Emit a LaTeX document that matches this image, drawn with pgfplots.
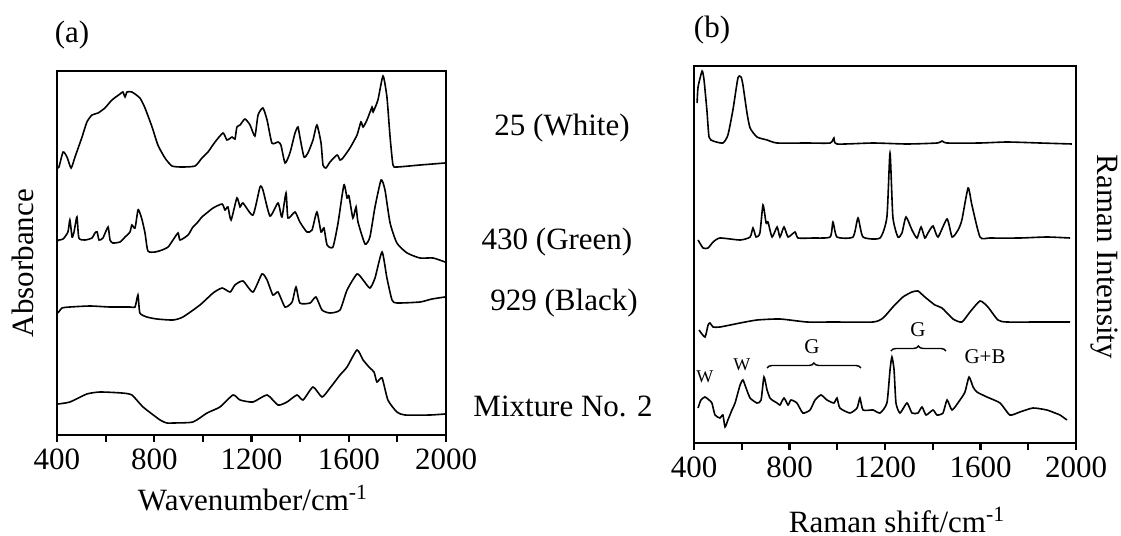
\documentclass[border=0pt]{standalone}
\usepackage{pgfplots}
\pgfplotsset{compat=1.18}
\usepackage{fontspec}
\setmainfont{Liberation Serif}
\usetikzlibrary{decorations.pathreplacing}
\newcommand{\bigf}{\fontsize{15.5}{18}\selectfont}
\newcommand{\smf}{\fontsize{10.5}{12}\selectfont}
\newcommand{\wf}{\fontsize{9}{11}\selectfont}
\pgfplotsset{
  spec/.style={
    scale only axis, xmin=400, xmax=2000, ymin=0,
    ytick=\empty,
    xtick={400,800,1200,1600,2000},
    minor xtick={600,1000,1400,1800},
    tick align=outside, xtick pos=left,
    major tick length=3.5pt, minor tick length=3.5pt,
    axis line style={line width=1.4pt},
    every tick/.style={line width=1.1pt, black},
    every minor tick/.style={line width=1.1pt, black},
    /pgf/number format/assume math mode=true,
    xticklabel style={font=\bigf, /pgf/number format/1000 sep={}},
    clip=false,
  },
  curve/.style={black, line width=0.8pt, no marks, smooth, tension=0.35},
}
\begin{document}
\begin{tikzpicture}
\path[use as bounding box] (0,0) rectangle (560.5pt,-268pt);
% ---------------- (a) FTIR ----------------
\begin{axis}[spec, at={(28.5pt,-217.5pt)}, anchor=south west,
  width=194.5pt, height=182pt, ymax=364]
% 25 (White)
\addplot[curve] coordinates {
(400,267)(408,268)(425,283)(441,278)(458,267)(474,278)(503,298)(523,313)(544,320)(569,322)
(597,327)(626,335)(659,341)(671,343)(680,338)(688,343)(708,343)(741,337)(762,327)(791,308)
(815,290)(844,277)(873,269)(914,268)(968,269)(996,277)(1021,283)(1050,293)(1083,302)(1099,295)
(1120,298)(1132,296)(1140,308)(1153,310)(1173,316)(1194,310)(1214,299)(1227,320)(1247,327)
(1264,315)(1284,292)(1309,293)(1321,290)(1338,272)(1358,282)(1379,302)(1391,308)(1399,298)
(1416,278)(1432,282)(1453,295)(1469,310)(1486,292)(1494,270)(1506,267)(1523,273)(1552,280)
(1564,275)(1576,277)(1605,287)(1634,300)(1650,313)(1659,308)(1675,315)(1696,328)(1700,323)
(1720,335)(1741,359)(1757,338)(1770,298)(1782,270)(1798,268)(1893,270)(1996,272)};
% 430 (Green)
\addplot[curve] coordinates {
(402,194)(408,195)(425,196)(445,203)(453,215)(462,198)(470,203)(482,218)(490,197)(515,195)
(544,197)(556,202)(565,203)(573,195)(589,197)(610,208)(618,195)(630,192)(659,193)(680,198)
(700,203)(708,210)(721,207)(733,225)(741,222)(750,215)(762,202)(774,184)(803,183)(832,185)
(857,188)(877,195)(898,202)(906,195)(939,200)(959,208)(976,212)(996,218)(1021,223)(1042,227)
(1079,231)(1091,225)(1103,228)(1116,215)(1140,237)(1153,228)(1165,232)(1206,220)(1235,248)
(1247,245)(1276,219)(1309,232)(1325,218)(1342,242)(1350,217)(1379,223)(1399,213)(1428,203)
(1449,205)(1469,223)(1486,203)(1498,207)(1511,190)(1535,188)(1556,212)(1580,250)(1593,237)
(1601,239)(1617,217)(1630,228)(1638,213)(1667,191)(1687,198)(1708,228)(1733,255)(1749,245)
(1770,212)(1798,192)(1840,182)(1893,177)(1947,177)(1996,173)};
% 929 (Black)
\addplot[curve] coordinates {
(404,122)(421,127)(453,128)(536,129)(618,128)(700,128)(721,128)(733,140)(741,122)(770,118)
(811,116)(877,115)(918,118)(988,130)(1042,142)(1079,147)(1112,143)(1132,150)(1165,154)
(1206,143)(1243,161)(1264,155)(1288,140)(1309,143)(1338,128)(1367,133)(1383,148)(1399,132)
(1441,132)(1465,138)(1490,125)(1523,122)(1564,125)(1593,145)(1634,161)(1659,155)(1687,147)
(1708,157)(1737,183)(1757,157)(1778,135)(1798,132)(1893,133)(1942,136)(1996,138)};
% Mixture No. 2
\addplot[curve] coordinates {
(404,31)(453,33)(523,41)(577,43)(667,42)(708,40)(754,28)(824,15)(852,12)(877,12)(959,13)
(1017,22)(1070,28)(1124,40)(1153,35)(1206,33)(1264,40)(1309,30)(1346,33)(1387,40)(1412,35)
(1453,48)(1490,38)(1523,47)(1564,60)(1593,68)(1634,85)(1659,75)(1687,67)(1704,63)(1716,53)
(1737,57)(1761,35)(1798,23)(1831,20)(1934,20)(1996,21)};
\end{axis}
% ---------------- (b) Raman ----------------
\begin{axis}[spec, at={(347pt,-221.5pt)}, anchor=south west,
  width=191pt, height=188.5pt, ymax=377]
% 25 (White)
\addplot[curve] coordinates {
(413,340)(417,356)(434,372)(442,363)(454,333)(463,306)(480,302)(521,300)(542,308)(563,333)
(584,365)(597,366)(605,358)(622,330)(635,315)(664,306)(706,303)(748,300)(873,300)(970,300)
(986,305)(999,299)(1150,300)(1292,299)(1418,300)(1439,302)(1460,300)(1598,300)(1711,301)
(1849,300)(1983,299)};
% 430 (Green)
\addplot[curve] coordinates {
(417,203)(438,195)(459,195)(480,201)(509,205)(593,203)(635,206)(647,215)(660,206)(676,210)
(689,238)(702,220)(710,221)(727,206)(748,216)(760,206)(777,216)(794,206)(823,211)(836,205)
(898,205)(970,206)(982,221)(999,206)(1066,206)(1087,225)(1108,206)(1179,205)(1208,226)
(1221,290)(1233,226)(1254,206)(1271,210)(1288,226)(1313,213)(1334,205)(1351,216)(1367,205)
(1380,210)(1401,217)(1422,206)(1460,224)(1481,206)(1506,213)(1522,223)(1548,255)(1564,238)
(1598,206)(1640,205)(1765,205)(1878,206)(1975,205)};
% 929 (Black)
\addplot[curve] coordinates {
(421,113)(446,106)(459,118)(467,120)(480,116)(509,116)(593,120)(664,123)(760,124)(873,121)
(982,121)(1150,121)(1192,125)(1233,136)(1275,146)(1313,151)(1338,152)(1367,146)(1409,138)
(1439,135)(1485,124)(1522,121)(1556,131)(1598,142)(1631,136)(1673,123)(1711,121)(1849,121)(1975,121)};
% Mixture No. 2
\addplot[curve] coordinates {
(417,35)(429,43)(446,46)(463,43)(475,40)(488,28)(509,25)(521,28)(530,16)(542,23)(559,33)
(572,40)(593,58)(605,63)(618,55)(635,45)(664,40)(681,43)(693,66)(706,53)(718,45)(727,43)
(748,40)(760,38)(777,45)(794,38)(806,43)(831,40)(856,30)(886,33)(907,43)(932,48)(957,43)
(986,40)(999,45)(1011,35)(1053,30)(1083,35)(1095,45)(1108,33)(1150,33)(1179,30)(1208,40)
(1221,73)(1229,86)(1238,73)(1246,40)(1263,30)(1292,40)(1313,30)(1338,30)(1355,36)(1372,28)
(1401,33)(1418,28)(1443,30)(1460,43)(1481,33)(1514,43)(1535,51)(1552,66)(1569,56)(1585,51)
(1627,46)(1682,40)(1723,28)(1765,31)(1820,35)(1878,33)(1912,30)(1933,28)(1962,23)};
% annotations
\draw[line width=0.7pt, decorate, decoration={brace, amplitude=2.5pt}]
  (axis cs:706,75) -- (axis cs:1099,75);
\draw[line width=0.7pt, decorate, decoration={brace, amplitude=2.5pt}]
  (axis cs:1225,92) -- (axis cs:1455,92);
\node[font=\smf] at (axis cs:894,96) {G};
\node[font=\smf] at (axis cs:1338,113) {G};
\node[font=\smf] at (axis cs:1619,86) {G+B};
\node[font=\wf] at (axis cs:446,66) {W};
\node[font=\wf] at (axis cs:601,78) {W};
\end{axis}
% ---------------- text ----------------
\node[font=\bigf] at (36pt,-17.5pt) {(a)};
\node[font=\bigf] at (356pt,-15pt) {(b)};
\node[font=\bigf, rotate=90] at (11.5pt,-131.5pt) {Absorbance};
\node[font=\bigf, rotate=-90] at (552pt,-128.5pt) {Raman Intensity};
\node[font=\bigf] at (126.5pt,-249pt) {Wavenumber/cm\textsuperscript{-1}};
\node[font=\bigf] at (448.5pt,-260pt) {Raman shift/cm\textsuperscript{-1}};
\node[font=\bigf] at (281pt,-64pt) {25 (White)};
\node[font=\bigf] at (278.5pt,-121pt) {430 (Green)};
\node[font=\bigf] at (282pt,-151.5pt) {929 (Black)};
\node[font=\bigf] at (281.5pt,-203pt) {Mixture No. 2};
\end{tikzpicture}
\end{document}
